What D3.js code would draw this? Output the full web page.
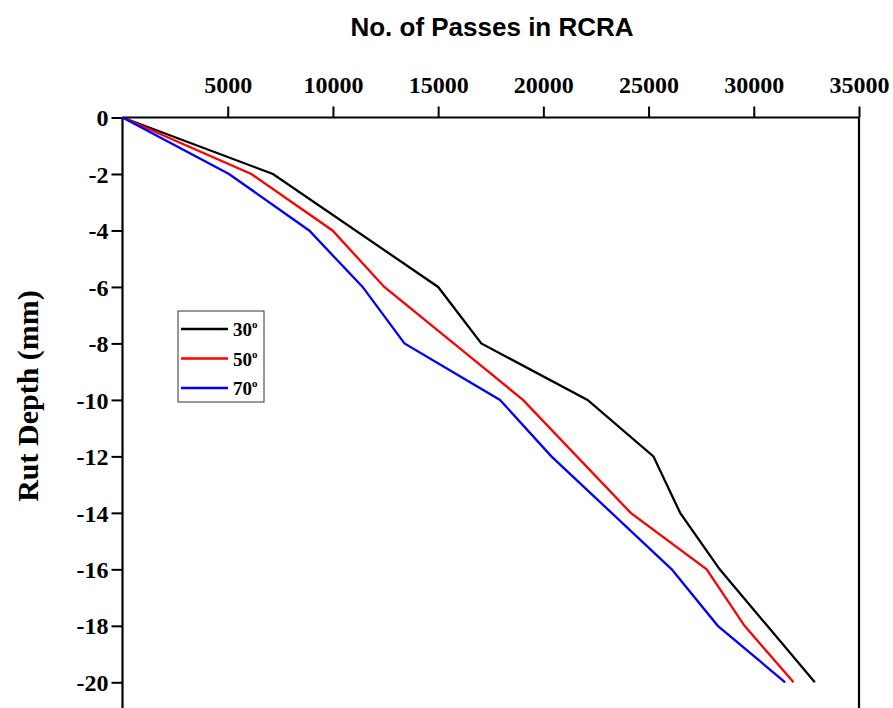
<!DOCTYPE html>
<html><head><meta charset="utf-8">
<script src="https://cdn.jsdelivr.net/npm/d3@7"></script>
<style>body{margin:0;background:#fff}svg{display:block}</style>
</head><body>
<script>
const seriesNames = ["30", "50", "70"];
const seriesColors = ["#000000", "#ff0000", "#0000ff"];
const passes30 = [0, 7150, 15000, 17050, 22100, 25230, 26500, 28380, 32900];
const rut30    = [0, -2, -6, -8, -10, -12, -14, -16, -20];
const passes50 = [0, 6120, 9980, 12440, 15740, 19030, 24150, 27760, 29560, 31890];
const rut50    = [0, -2, -4, -6, -8, -10, -14, -16, -18, -20];
const passes70 = [0, 5060, 8870, 11410, 13400, 17940, 20380, 26100, 28290, 31490];
const rut70    = [0, -2, -4, -6, -8, -10, -12, -16, -18, -20];
const xTicks = [5000, 10000, 15000, 20000, 25000, 30000, 35000];
const yTicks = [0, -2, -4, -6, -8, -10, -12, -14, -16, -18, -20];

const W = 893, H = 708;
const svg = d3.select("body").append("svg").attr("width", W).attr("height", H);
const x = d3.scaleLinear().domain([0, 35000]).range([122.5, 859]);
const y = d3.scaleLinear().domain([0, -20]).range([117.5, 682.3]);

const serif = "'Liberation Serif','Times New Roman',serif";

// top axis
const gx = svg.append("g").attr("transform", `translate(0,${y(0)})`)
  .call(d3.axisTop(x).tickValues(xTicks).tickFormat(d => String(d))
    .tickSize(11).tickPadding(14).tickSizeOuter(0));
gx.select(".domain").attr("stroke-width", 2.2).attr("d", `M${x(0)},0H${x(35000)}`);
gx.selectAll(".tick line").attr("stroke-width", 2);
gx.selectAll(".tick text").attr("font-family", serif).attr("font-weight", "bold")
  .attr("font-size", 24).attr("fill", "#000");

// left axis
const gy = svg.append("g").attr("transform", `translate(${x(0)},0)`)
  .call(d3.axisLeft(y).tickValues(yTicks).tickFormat(d => String(d))
    .tickSize(11).tickPadding(3).tickSizeOuter(0));
gy.select(".domain").attr("stroke-width", 2.2).attr("d", `M0,${y(0)}V${H + 5}`);
gy.selectAll(".tick line").attr("stroke-width", 2);
gy.selectAll(".tick text").attr("font-family", serif).attr("font-weight", "bold")
  .attr("font-size", 24).attr("fill", "#000").attr("dy", "0.34em");

// right axis
svg.append("line").attr("x1", x(35000)).attr("x2", x(35000))
  .attr("y1", y(0)).attr("y2", H + 5).attr("stroke", "#000").attr("stroke-width", 2.2);

// lines
const data = [
  passes30.map((p, i) => [p, rut30[i]]),
  passes50.map((p, i) => [p, rut50[i]]),
  passes70.map((p, i) => [p, rut70[i]])
];
const line = d3.line().x(d => x(d[0])).y(d => y(d[1]));
data.forEach((d, i) => {
  svg.append("path").datum(d).attr("d", line).attr("fill", "none")
    .attr("stroke", seriesColors[i]).attr("stroke-width", 2.3);
});

// title
svg.append("text").attr("x", 492).attr("y", 36).attr("text-anchor", "middle")
  .attr("font-family", "'Liberation Sans',Arial,sans-serif").attr("font-weight", "bold")
  .attr("font-size", 26).text("No. of Passes in RCRA");

// y label
svg.append("text").attr("transform", "translate(38,396) rotate(-90)").attr("text-anchor", "middle")
  .attr("font-family", serif).attr("font-weight", "bold").attr("font-size", 30)
  .text("Rut Depth (mm)");

// legend
const lg = svg.append("g");
lg.append("rect").attr("x", 178).attr("y", 311).attr("width", 86).attr("height", 91)
  .attr("fill", "#fff").attr("stroke", "#333").attr("stroke-width", 1);
seriesNames.forEach((n, i) => {
  const ly = 329 + i * 29.5;
  lg.append("line").attr("x1", 181).attr("x2", 228).attr("y1", ly).attr("y2", ly)
    .attr("stroke", seriesColors[i]).attr("stroke-width", 2.3);
  const t = lg.append("text").attr("x", 233).attr("y", ly + 7)
    .attr("font-family", serif).attr("font-weight", "bold").attr("font-size", 19);
  t.append("tspan").text(n);
  t.append("tspan").attr("dy", -8).attr("font-size", 11).text("o");
});
</script>
</body></html>
